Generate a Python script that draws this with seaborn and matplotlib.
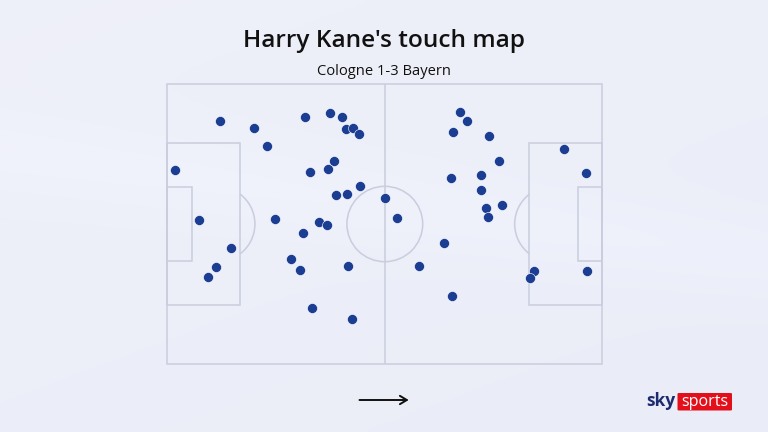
import numpy as np
import pandas as pd
import matplotlib
matplotlib.use("Agg")
import matplotlib.pyplot as plt
from matplotlib.patches import Rectangle, Arc, Circle, FancyBboxPatch, FancyArrowPatch
import seaborn as sns

# Touch locations in pitch metres (x: 0-105 left to right, y: 0-68 bottom to top)
touch_x = [12.7, 20.9, 24.0, 1.8, 33.2, 39.2, 42.1, 43.1, 44.9, 46.3,
           40.3, 38.9, 34.5, 46.5, 43.3, 40.6, 52.6, 7.7, 26.1, 36.7,
           38.6, 32.7, 15.3, 11.8, 9.9, 29.8, 32.1, 43.7, 34.9, 44.7,
           70.7, 72.3, 68.9, 77.7, 80.1, 68.4, 75.7, 75.7, 55.5, 76.9,
           77.5, 80.8, 95.8, 101.1, 66.8, 60.8, 68.7, 88.4, 87.5, 101.3]
touch_y = [59.1, 57.3, 52.9, 47.1, 59.9, 61.0, 59.9, 57.1, 57.2, 55.9,
           49.3, 47.4, 46.6, 43.2, 41.2, 41.0, 40.2, 34.9, 35.2, 34.6,
           33.8, 31.7, 28.1, 23.6, 21.1, 25.4, 22.9, 23.7, 13.5, 11.0,
           61.1, 58.9, 56.3, 55.4, 49.3, 45.2, 45.9, 42.3, 35.5, 37.8,
           35.7, 38.6, 52.1, 46.5, 29.3, 23.7, 16.4, 22.5, 20.9, 22.7]

title = "Harry Kane's touch map"
subtitle = "Cologne 1-3 Bayern"

PITCH_L, PITCH_W = 105.0, 68.0
BOX_D, BOX_W = 17.6, 39.5
SIX_D, SIX_W = 5.9, 18.1
SPOT = 12.0
CIRCLE_R = 9.15

LINE = "#c9cddd"
DOT = "#1b3e93"
TEXT = "#111111"

sns.set_theme(style="white")
plt.rcParams["font.family"] = ["Open Sans", "DejaVu Sans"]

fig = plt.figure(figsize=(7.68, 4.32), dpi=100)

# soft lavender backdrop
bg = fig.add_axes([0, 0, 1, 1])
bg.set_axis_off()
yy, xx = np.mgrid[0:1:200j, 0:1:300j]
top = np.array([0.935, 0.942, 0.978])
bot = np.array([0.918, 0.928, 0.970])
t = (0.6 * yy + 0.4 * xx)[..., None]
band = np.exp(-((yy - 0.35 - 0.25 * xx) ** 2) / 0.01)[..., None] * 0.01
img = np.clip(top * (1 - t) + bot * t + band, 0, 1)
bg.imshow(img, extent=[0, 1, 0, 1], aspect="auto", zorder=0)
bg.set_xlim(0, 1)
bg.set_ylim(0, 1)

# pitch axes
W, H = 768.0, 432.0
px0, px1, py0, py1 = 167.3, 602.3, 84.0, 364.0
ax = fig.add_axes([px0 / W, 1 - py1 / H, (px1 - px0) / W, (py1 - py0) / H])
ax.patch.set_alpha(0)

lw = 1.1
kw = dict(fill=False, edgecolor=LINE, linewidth=lw, clip_on=False, zorder=1)
ax.add_patch(Rectangle((0, 0), PITCH_L, PITCH_W, **kw))
ax.plot([PITCH_L / 2, PITCH_L / 2], [0, PITCH_W], color=LINE, lw=lw, zorder=1)
ax.add_patch(Circle((PITCH_L / 2, PITCH_W / 2), CIRCLE_R, **kw))
cy = PITCH_W / 2
ang = np.degrees(np.arccos((BOX_D - SPOT) / CIRCLE_R))
# left end
ax.add_patch(Rectangle((0, cy - BOX_W / 2), BOX_D, BOX_W, **kw))
ax.add_patch(Rectangle((0, cy - SIX_W / 2), SIX_D, SIX_W, **kw))
ax.add_patch(Arc((SPOT, cy), 2 * CIRCLE_R, 2 * CIRCLE_R,
                 theta1=-ang, theta2=ang, color=LINE, lw=lw))
# right end
ax.add_patch(Rectangle((PITCH_L - BOX_D, cy - BOX_W / 2), BOX_D, BOX_W, **kw))
ax.add_patch(Rectangle((PITCH_L - SIX_D, cy - SIX_W / 2), SIX_D, SIX_W, **kw))
ax.add_patch(Arc((PITCH_L - SPOT, cy), 2 * CIRCLE_R, 2 * CIRCLE_R,
                 theta1=180 - ang, theta2=180 + ang, color=LINE, lw=lw))

touches = pd.DataFrame({"x": touch_x, "y": touch_y})
sns.scatterplot(data=touches, x="x", y="y", ax=ax, s=52, color=DOT,
                edgecolor="white", linewidth=0.4, zorder=3, legend=False)
ax.set_xlim(0, PITCH_L)
ax.set_ylim(0, PITCH_W)
ax.set_axis_off()

# titles
fig.text(0.5, 1 - 46.7 / H, title, ha="center", va="baseline",
         fontsize=17.6, fontweight="semibold", color=TEXT)
fig.text(0.5, 1 - 75.0 / H, subtitle, ha="center", va="baseline",
         fontsize=10.6, color=TEXT)

# direction of play arrow
fig.add_artist(FancyArrowPatch(
    (356.7 / W, 1 - 400 / H), (411.5 / W, 1 - 400 / H),
    transform=fig.transFigure, arrowstyle="->,head_length=5,head_width=3",
    color="#111111", lw=1.4, mutation_scale=1))

# broadcaster mark
fig.text(675.5 / W, 1 - 406.5 / H, "sky", ha="right", va="baseline",
         fontsize=12.5, fontweight="bold", color="#1c2b6e")
fig.add_artist(FancyBboxPatch((677.5 / W, 1 - 410.5 / H), 54.5 / W, 17.5 / H,
                              boxstyle="round,pad=0,rounding_size=0.002",
                              transform=fig.transFigure, facecolor="#e3101c",
                              edgecolor="none"))
fig.text(704.7 / W, 1 - 406.0 / H, "sports", ha="center", va="baseline",
         fontsize=11.6, color="white")

fig.savefig("out.png", dpi=100)
